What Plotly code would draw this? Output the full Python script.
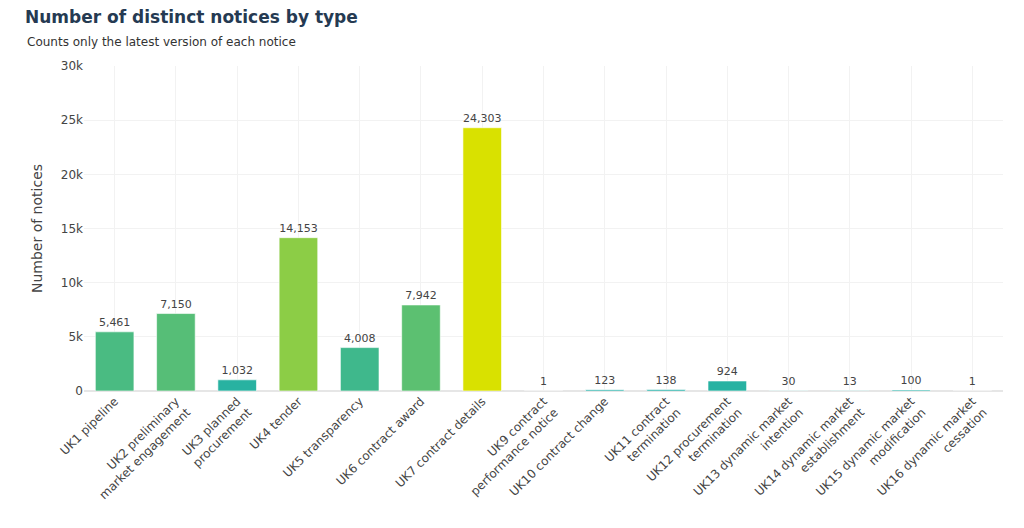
import plotly.graph_objects as go

categories = [
    "UK1 pipeline",
    "UK2 preliminary<br>market engagement",
    "UK3 planned<br>procurement",
    "UK4 tender",
    "UK5 transparency",
    "UK6 contract award",
    "UK7 contract details",
    "UK9 contract<br>performance notice",
    "UK10 contract change",
    "UK11 contract<br>termination",
    "UK12 procurement<br>termination",
    "UK13 dynamic market<br>intention",
    "UK14 dynamic market<br>establishment",
    "UK15 dynamic market<br>modification",
    "UK16 dynamic market<br>cessation",
]
counts = [5461, 7150, 1032, 14153, 4008, 7942, 24303, 1, 123, 138, 924, 30, 13, 100, 1]

FONT = "Verdana, DejaVu Sans, sans-serif"

W, H = 1008, 514
L, R, T, B = 76, 13, 58, 129
plot_w = W - L - R
plot_h = H - T - B

fig = go.Figure(
    go.Bar(
        x=categories,
        y=counts,
        marker=dict(
            color=counts,
            colorscale=[[0, "#20b0a8"], [1, "#d9e100"]],
            cmin=0,
            cmax=max(counts),
            line=dict(color="rgba(255,255,255,0.6)", width=1),
        ),
        texttemplate="%{y:,}",
        textposition="outside",
        textfont=dict(size=11, color="#444"),
        cliponaxis=False,
    )
)

fig.update_layout(
    template="plotly_white",
    width=W,
    height=H,
    margin=dict(l=L, r=R, t=T, b=B),
    font=dict(family=FONT, size=12, color="#444"),
    title=dict(
        text="<b>Number of distinct notices by type</b>",
        x=17 / W,
        xref="container",
        xanchor="left",
        y=1 - 9 / H,
        yref="container",
        yanchor="middle",
        font=dict(size=17, color="#253a52", family=FONT),
    ),
    annotations=[
        dict(
            text="Counts only the latest version of each notice",
            xref="paper",
            yref="paper",
            x=(25 - 84) / plot_w,
            y=1 + 24 / plot_h,
            xanchor="left",
            yanchor="middle",
            showarrow=False,
            font=dict(size=12, color="#333", family=FONT),
        )
    ],
    bargap=0.37,
    showlegend=False,
)
fig.update_xaxes(tickangle=-45, tickfont=dict(size=12), gridcolor="#f2f2f2", showgrid=True)
fig.update_yaxes(
    title=dict(text="Number of notices", font=dict(size=14), standoff=14),
    range=[0, 30000],
    dtick=5000,
    gridcolor="#f2f2f2",
    zerolinecolor="#e6e6e6",
    zerolinewidth=2,
)

fig.write_html("out.html")
